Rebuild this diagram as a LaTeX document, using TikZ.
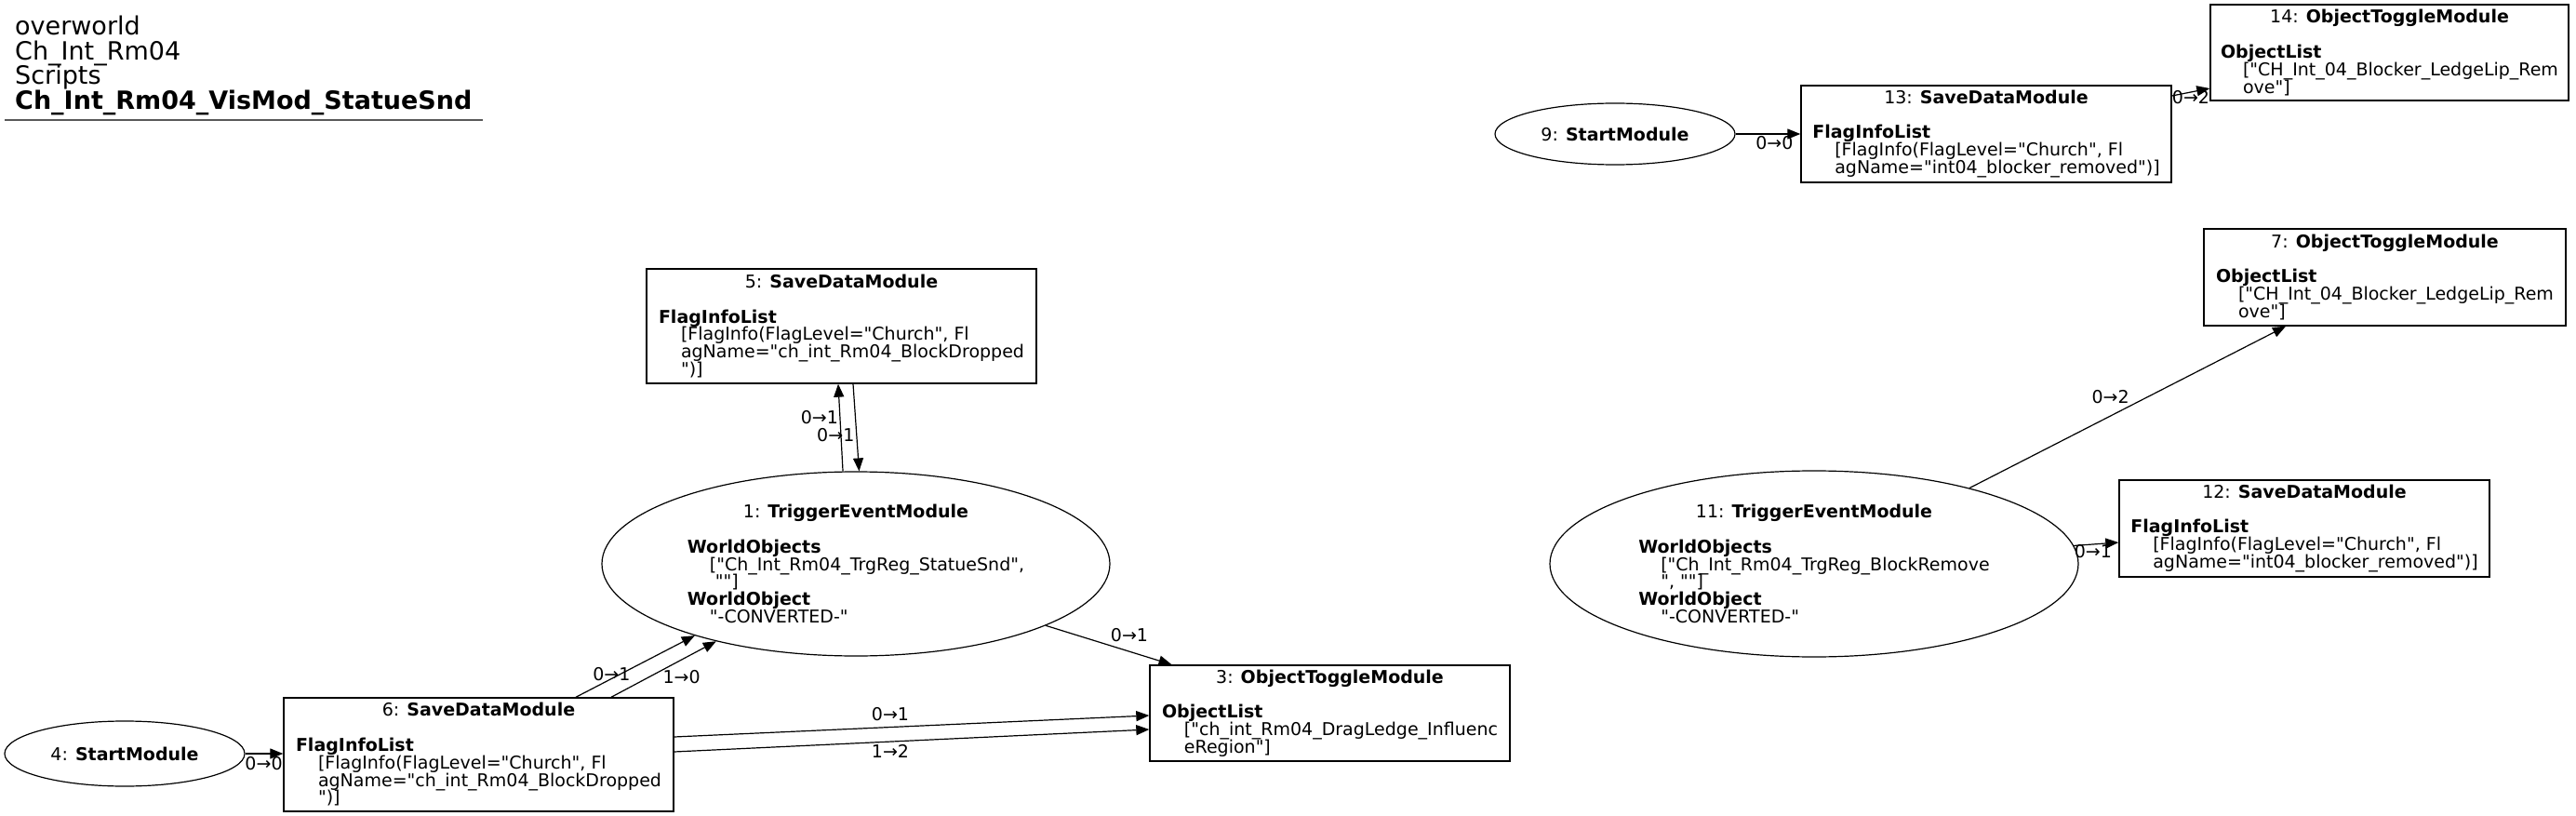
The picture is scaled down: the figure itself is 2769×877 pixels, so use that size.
\documentclass[tikz,border=0pt]{standalone}
\usepackage{fontspec}
\setmainfont{DejaVu Sans}[Ligatures=TeXOff]
\usetikzlibrary{arrows.meta, shapes.geometric, positioning}

\newcommand\nodefont{\fontsize{19}{18.8}\selectfont\lineskiplimit=-100pt\relax}
\newcommand\titlefont{\fontsize{27}{26.5}\selectfont\lineskiplimit=-100pt\relax}
\newcommand\ind{\hspace*{24pt}}
\newcommand\modtext[1]{\vbox{\halign{##\hfil\cr#1\crcr}}}
\newcommand\modtitle[2]{\hfill #1: \textbf{#2}\hfill}

\begin{document}
\begin{tikzpicture}[
  x=1pt, y=-1pt,
  modbox/.style={rectangle, draw, line width=1.4pt, inner sep=0pt, font=\nodefont},
  modell/.style={ellipse, draw, line width=1.2pt, inner sep=0pt, font=\nodefont},
  flow/.style={-{Triangle[length=14pt, width=11pt]}, line width=1.2pt},
  elabel/.style={font=\nodefont, inner sep=0pt},
]
  \useasboundingbox (0,0) rectangle (2769,877);

  \node[anchor=north west, align=left, inner sep=0pt, font=\titlefont] (title) at (16,17) {overworld\\Ch\_Int\_Rm04\\Scripts\\\textbf{Ch\_Int\_Rm04\_VisMod\_StatueSnd}};
  \draw[line width=1.5pt, black!65] (5,129) -- (519,129);

  % left group
  \node[modell, minimum width=258pt, minimum height=70pt] (start4) at (134,810) {4: \textbf{StartModule}};
  \node[modbox, minimum width=419pt, minimum height=122pt] (sd6) at (514.5,811) {\modtext{\modtitle{6}{SaveDataModule}\cr\cr
    \textbf{FlagInfoList}\cr
    \ind[FlagInfo(FlagLevel="Church", Fl\cr
    \ind agName="ch\_int\_Rm04\_BlockDropped\cr
    \ind")]}};
  \node[modell, minimum width=546pt, minimum height=198pt] (te1) at (920,606) {\modtext{\modtitle{1}{TriggerEventModule}\cr\cr
    \textbf{WorldObjects}\cr
    \ind["Ch\_Int\_Rm04\_TrgReg\_StatueSnd",\cr
    \ind\ ""]\cr
    \textbf{WorldObject}\cr
    \ind"-CONVERTED-"}};
  \node[modbox, minimum width=419pt, minimum height=123pt] (sd5) at (904.5,350.5) {\modtext{\modtitle{5}{SaveDataModule}\cr\cr
    \textbf{FlagInfoList}\cr
    \ind[FlagInfo(FlagLevel="Church", Fl\cr
    \ind agName="ch\_int\_Rm04\_BlockDropped\cr
    \ind")]}};
  \node[modbox, minimum width=387pt, minimum height=103pt] (ot3) at (1429.5,766.5) {\modtext{\modtitle{3}{ObjectToggleModule}\cr\cr
    \textbf{ObjectList}\cr
    \ind["ch\_int\_Rm04\_DragLedge\_Influenc\cr
    \ind eRegion"]}};

  % right group
  \node[modell, minimum width=258pt, minimum height=66pt] (start9) at (1736,144) {9: \textbf{StartModule}};
  \node[modbox, minimum width=398pt, minimum height=104pt] (sd13) at (2135,144) {\modtext{\modtitle{13}{SaveDataModule}\cr\cr
    \textbf{FlagInfoList}\cr
    \ind[FlagInfo(FlagLevel="Church", Fl\cr
    \ind agName="int04\_blocker\_removed")]}};
  \node[modbox, minimum width=385pt, minimum height=103pt] (ot14) at (2568.5,56.5) {\modtext{\modtitle{14}{ObjectToggleModule}\cr\cr
    \textbf{ObjectList}\cr
    \ind["CH\_Int\_04\_Blocker\_LedgeLip\_Rem\cr
    \ind ove"]}};
  \node[modbox, minimum width=389pt, minimum height=104pt] (ot7) at (2563.5,298) {\modtext{\modtitle{7}{ObjectToggleModule}\cr\cr
    \textbf{ObjectList}\cr
    \ind["CH\_Int\_04\_Blocker\_LedgeLip\_Rem\cr
    \ind ove"]}};
  \node[modell, minimum width=568pt, minimum height=200pt] (te11) at (1950,606) {\modtext{\modtitle{11}{TriggerEventModule}\cr\cr
    \textbf{WorldObjects}\cr
    \ind["Ch\_Int\_Rm04\_TrgReg\_BlockRemove\cr
    \ind", ""]\cr
    \textbf{WorldObject}\cr
    \ind"-CONVERTED-"}};
  \node[modbox, minimum width=398pt, minimum height=104pt] (sd12) at (2477,568) {\modtext{\modtitle{12}{SaveDataModule}\cr\cr
    \textbf{FlagInfoList}\cr
    \ind[FlagInfo(FlagLevel="Church", Fl\cr
    \ind agName="int04\_blocker\_removed")]}};

  \draw[flow] (start4.east) -- (start4.east -| sd6.west) node[elabel, pos=0.49, yshift=-11pt] {0→0};
  \draw[flow] (te1.98) -- ([xshift=-3.5pt]sd5.south) node[elabel, pos=0.617, xshift=-22pt] {0→1};
  \draw[flow] ([xshift=12.5pt]sd5.south) -- (te1.88) node[elabel, pos=0.585, xshift=-22.5pt] {0→1};
  \draw[flow] ([xshift=104.5pt]sd6.north) -- (te1.204) node[elabel, pos=0.3, yshift=5pt] {0→1};
  \draw[flow] ([xshift=142.5pt]sd6.north) -- (te1.209) node[elabel, pos=0.67, yshift=-19pt] {1→0};
  \draw[flow] (te1.342) -- ([xshift=-170pt]ot3.north) node[elabel, pos=0.664, yshift=18pt] {0→1};
  \draw[flow] ([yshift=19pt]sd6.east) -- ([yshift=-2.5pt]ot3.west) node[elabel, pos=0.455, yshift=13.5pt] {0→1};
  \draw[flow] ([yshift=3pt]sd6.east) -- ([yshift=-17.5pt]ot3.west) node[elabel, pos=0.455, yshift=-10pt] {1→2};

  \draw[flow] (start9.east) -- (start9.east -| sd13.west) node[elabel, pos=0.6, yshift=-10pt] {0→0};
  \draw[flow] ([yshift=41pt]sd13.east) -- ([yshift=-38.5pt]ot14.west) node[elabel, pos=0.5, yshift=-6pt] {0→2};
  \draw[flow] (te11.26) -- ([xshift=-106.5pt]ot7.south) node[elabel, pos=0.446, yshift=20pt] {0→2};
  \draw[flow] (te11.4) -- ([yshift=-15pt]sd12.west) node[elabel, pos=0.43, yshift=-8pt] {0→1};
\end{tikzpicture}
\end{document}
